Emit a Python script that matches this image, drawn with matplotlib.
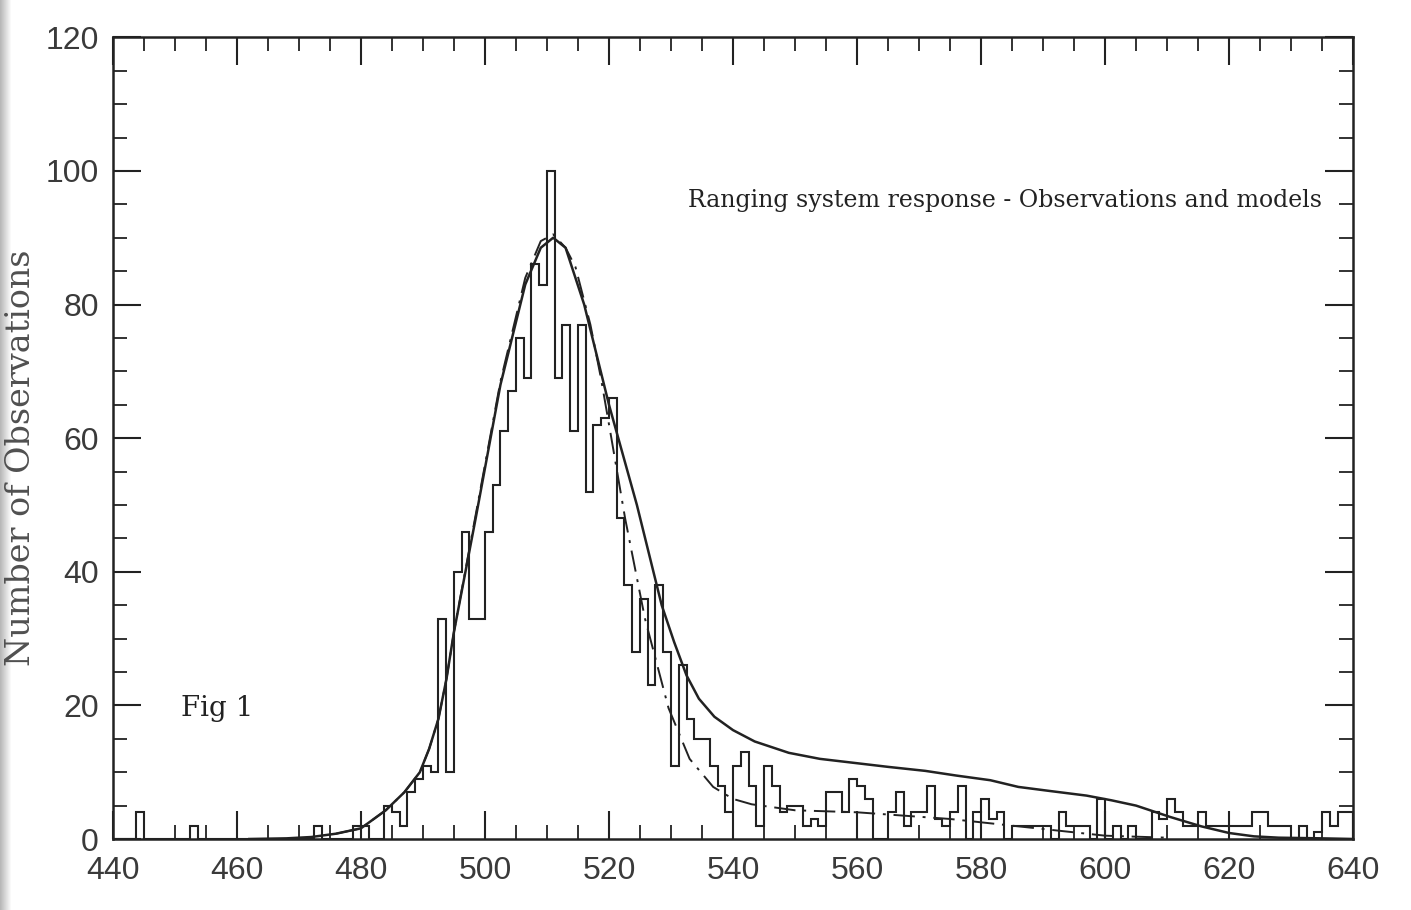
import numpy as np
import matplotlib

matplotlib.use("Agg")
import matplotlib.pyplot as plt
from matplotlib.ticker import MultipleLocator

# histogram of range residuals, 1.25 unit bins starting at 440
bin_start = 440.0
bin_width = 1.25
counts = [
    0, 0, 0, 4, 0, 0, 0, 0, 0, 0,
    2, 0, 0, 0, 0, 0, 0, 0, 0, 0,
    0, 0, 0, 0, 0, 0, 2, 0, 0, 0,
    0, 2, 2, 0, 0, 5, 4, 2, 7, 9,
    11, 10, 33, 10, 40, 46, 33, 33, 46, 53,
    61, 67, 75, 69, 86, 83, 100, 69, 77, 61,
    77, 52, 62, 63, 66, 48, 38, 28, 36, 23,
    38, 28, 11, 26, 18, 15, 15, 11, 8, 4,
    11, 13, 8, 2, 11, 8, 4, 5, 5, 2,
    3, 2, 7, 7, 4, 9, 8, 6, 0, 0,
    4, 7, 2, 4, 4, 8, 3, 2, 4, 8,
    0, 4, 6, 3, 4, 0, 2, 2, 2, 2,
    2, 0, 4, 2, 2, 2, 0, 6, 0, 2,
    0, 2, 0, 0, 4, 3, 6, 4, 2, 2,
    4, 2, 2, 2, 2, 2, 2, 4, 4, 2,
    2, 2, 0, 2, 0, 1, 4, 2, 4, 4,
]

# full system model (solid)
model_x = [462, 468, 472, 476, 480, 484, 487, 489.5, 491, 492.5, 493.8, 495,
           498.5, 502.5, 506.5, 509, 511, 513, 516, 520, 524.5, 528.5, 530.5,
           532.5, 534.5, 537, 540, 543.5, 549, 554, 559.5, 565, 571, 576,
           581.5, 586, 591, 597, 601, 605, 610.5, 615.5, 620, 624, 628, 635,
           640]
model_y = [0, 0.1, 0.3, 0.8, 1.6, 4.3, 7, 10, 13.5, 18, 24, 31,
           48, 68, 83, 88.5, 90, 88.5, 80, 65, 50, 35, 29.5,
           24.5, 21, 18.3, 16.3, 14.6, 12.9, 12, 11.4, 10.8, 10.2, 9.5,
           8.8, 7.8, 7.2, 6.5, 5.8, 5, 3.3, 1.9, 0.9, 0.4, 0.2, 0.1,
           0]

# pulse-only model (dash-dot)
pulse_x = [476, 480, 484, 487, 489.5, 491, 492.5, 493.8, 495, 498.5, 502.5,
           506.5, 509, 511, 513, 514.6, 517, 518.7, 520.2, 522.6, 525.8,
           529.6, 533, 536.8, 540, 543, 550, 560, 575, 590, 600, 610]
pulse_y = [0.8, 1.6, 4.3, 7, 10, 13.5, 18, 24, 31, 48.5, 68.5,
           84, 89.5, 90.5, 88.5, 85.6, 77, 69, 61, 48, 33,
           19.6, 12, 7.8, 6, 5.2, 4.3, 4, 3, 1.5, 0.5, 0.2]

x_ticks = [440, 460, 480, 500, 520, 540, 560, 580, 600, 620, 640]
y_ticks = [0, 20, 40, 60, 80, 100, 120]

ink = "#222222"
label_ink = "#3a3a3a"

plt.rcParams["font.family"] = ["Liberation Sans", "DejaVu Sans"]

fig = plt.figure(figsize=(14.11, 9.10), dpi=100)
fig.patch.set_facecolor("white")

# shaded binding edge on the far left
shade = fig.add_axes([0, 0, 0.008, 1])
shade.imshow(np.linspace(0.72, 1.0, 12)[None, :], cmap="gray", vmin=0, vmax=1,
             aspect="auto", extent=[0, 1, 0, 1])
shade.set_axis_off()

ax = fig.add_axes([0.080, 0.078, 0.879, 0.881])

edges = bin_start + bin_width * np.arange(len(counts) + 1)
ax.stairs(counts, edges, color=ink, linewidth=1.5)
ax.plot(model_x, model_y, color=ink, linewidth=1.8)
ax.plot(pulse_x, pulse_y, color=ink, linewidth=1.4,
        linestyle=(0, (11, 4, 1.5, 4)))

ax.set_xlim(440, 640)
ax.set_ylim(0, 120)
ax.set_xticks(x_ticks)
ax.set_yticks(y_ticks)
ax.xaxis.set_minor_locator(MultipleLocator(5))
ax.yaxis.set_minor_locator(MultipleLocator(5))
ax.tick_params(which="both", direction="in", top=True, right=True,
               colors=ink, labelcolor=label_ink)
ax.tick_params(which="major", length=20, width=1.5)
ax.tick_params(which="minor", length=10, width=1.3)
ax.tick_params(axis="x", which="major", pad=12, labelsize=23)
ax.tick_params(axis="y", which="major", pad=10, labelsize=23)
for spine in ax.spines.values():
    spine.set_color(ink)
    spine.set_linewidth(1.8)

ax.text(532.7, 95.5, "Ranging system response - Observations and models",
        family="DejaVu Serif", fontsize=17, color=ink, ha="left", va="center")
ax.text(451, 19.5, "Fig 1", family="DejaVu Serif", fontsize=20,
        color=ink, ha="left", va="center")

fig.text(0.015, 0.497, "Number of Observations", family="DejaVu Serif",
         fontsize=24, color="#505050", rotation=90, ha="center", va="center")

fig.savefig("out.png", dpi=100)
